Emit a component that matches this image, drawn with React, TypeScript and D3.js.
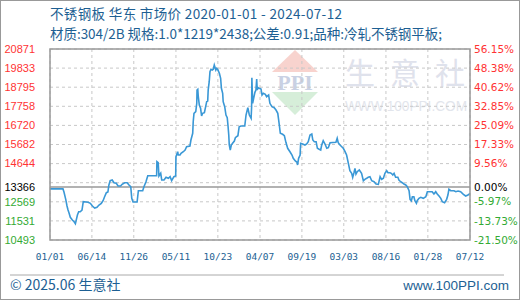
import React from "react";
import * as d3 from "d3";

const dates = [
  "2020-01-01","2020-02-21","2020-02-25","2020-03-03","2020-03-08","2020-03-12","2020-03-16","2020-03-21","2020-03-29","2020-04-05",
  "2020-04-10","2020-04-14","2020-04-18","2020-04-23","2020-04-29","2020-05-06","2020-05-11","2020-05-30","2020-06-08","2020-06-16",
  "2020-06-25","2020-07-04","2020-07-12","2020-07-21","2020-07-28","2020-08-03","2020-08-10","2020-08-16","2020-08-20","2020-08-25",
  "2020-09-02","2020-09-09","2020-09-18","2020-09-25","2020-10-05","2020-10-11","2020-10-21","2020-10-31","2020-11-07","2020-11-14",
  "2020-11-18","2020-11-23","2020-12-09","2020-12-14","2020-12-31","2021-01-05","2021-01-13","2021-01-20","2021-02-24","2021-02-25",
  "2021-03-02","2021-03-05","2021-03-12","2021-03-16","2021-03-25","2021-04-02","2021-04-11","2021-04-18","2021-04-24","2021-05-03",
  "2021-05-10","2021-05-11","2021-05-18","2021-05-20","2021-05-27","2021-05-31","2021-06-09","2021-06-16","2021-06-22","2021-07-05",
  "2021-07-09","2021-07-16","2021-07-18","2021-07-21","2021-07-28","2021-08-01","2021-08-02","2021-08-05","2021-08-07","2021-08-11",
  "2021-08-16","2021-08-20","2021-08-24","2021-08-31","2021-09-05","2021-09-09","2021-09-13","2021-09-15","2021-09-19","2021-09-22",
  "2021-09-26","2021-10-01","2021-10-05","2021-10-09","2021-10-15","2021-10-18","2021-10-22","2021-10-29","2021-11-03","2021-11-06",
  "2021-11-11","2021-11-13","2021-11-19","2021-11-24","2021-11-29","2021-12-02","2021-12-05","2021-12-07","2021-12-11","2021-12-15",
  "2021-12-20","2021-12-27","2021-12-31","2022-01-05","2022-01-10","2022-01-15","2022-01-22","2022-02-06","2022-02-11","2022-02-18",
  "2022-02-24","2022-03-03","2022-03-05","2022-03-06","2022-03-09","2022-03-13","2022-03-18","2022-03-22","2022-03-25","2022-03-27",
  "2022-03-31","2022-04-04","2022-04-11","2022-04-15","2022-04-20","2022-04-28","2022-05-03","2022-05-11","2022-05-16","2022-05-24",
  "2022-06-02","2022-06-09","2022-06-16","2022-06-20","2022-06-22","2022-06-26","2022-07-05","2022-07-12","2022-07-18","2022-07-25",
  "2022-08-03","2022-08-11","2022-08-16","2022-08-24","2022-08-31","2022-09-02","2022-09-06","2022-09-12","2022-09-14","2022-09-22",
  "2022-10-01","2022-10-08","2022-10-14","2022-10-21","2022-10-28","2022-11-01","2022-11-07","2022-11-14","2022-11-19","2022-11-26",
  "2022-12-02","2022-12-06","2022-12-12","2022-12-19","2022-12-26","2023-01-01","2023-01-08","2023-01-31","2023-02-05","2023-02-09",
  "2023-02-16","2023-02-23","2023-03-01","2023-03-08","2023-03-14","2023-03-21","2023-03-27","2023-04-03","2023-04-07","2023-04-12",
  "2023-04-16","2023-04-20","2023-04-25","2023-05-03","2023-05-12","2023-05-19","2023-05-25","2023-06-01","2023-06-07","2023-06-14",
  "2023-06-21","2023-06-30","2023-07-08","2023-07-17","2023-07-24","2023-07-30","2023-08-06","2023-08-12","2023-08-19","2023-08-24",
  "2023-09-01","2023-09-06","2023-09-12","2023-09-17","2023-09-23","2023-10-02","2023-10-06","2023-10-13","2023-10-19","2023-10-26",
  "2023-11-02","2023-11-08","2023-11-15","2023-11-19","2023-11-24","2023-11-28","2023-12-04","2023-12-08","2023-12-14","2023-12-17",
  "2023-12-24","2023-12-31","2024-01-10","2024-01-20","2024-01-26","2024-02-14","2024-02-21","2024-02-28","2024-03-05","2024-03-12",
  "2024-03-19","2024-03-25","2024-04-03","2024-04-11","2024-04-16","2024-04-20","2024-04-27","2024-05-10","2024-05-17","2024-05-26",
  "2024-06-05","2024-06-16","2024-06-25","2024-07-04","2024-07-12"
];

const prices = [
  13270,13270,13100,12704,12340,12122,11959,11725,11579,11486,
  11378,11617,11851,12030,12030,12122,12573,12540,12486,12340,
  12231,12269,12394,12486,12627,12845,13062,13100,13481,13714,
  13752,13606,13573,13426,13426,13519,13606,13606,13481,13389,
  12758,12557,12557,13171,13171,13389,13660,13986,13986,14747,
  14693,13970,14117,13752,13752,13899,13845,13932,13714,13932,
  13970,15018,15290,15111,15111,15203,15290,15383,15562,15600,
  15926,16290,16920,17377,17464,17920,18643,18681,18279,17828,
  17649,17230,17377,17410,17736,18007,18045,18643,19094,19637,
  19768,19730,19768,20002,19730,19822,19768,19551,19279,18735,
  18464,18007,17736,17284,17138,16703,16198,15654,15383,15654,
  15747,15872,16051,16105,16160,16649,16687,16687,17284,17681,
  17284,17105,17736,19311,17920,18192,18518,18643,19241,18643,
  18768,18735,18697,18371,18464,18410,18279,18371,17920,17736,
  17681,17556,17377,16959,16741,16290,16236,16160,15801,15475,
  15290,15111,14932,14785,14714,14568,14932,15111,15747,15709,
  15654,15709,15834,16198,16252,15926,15834,15834,15475,15421,
  15383,15654,15888,15709,15475,15508,15779,15801,16018,15779,
  15654,15562,15475,15290,15111,14660,14258,14117,13899,14149,
  14388,14078,14204,14296,14117,13714,13790,13845,13899,13932,
  13714,13660,13535,13519,13932,13790,13845,14117,14258,14149,
  14149,14117,14024,14117,13899,13899,13752,13660,13606,13535,
  13481,13389,13171,12704,12627,12845,12845,12627,12486,12627,
  12758,12813,12758,12845,13117,13117,12992,13117,12992,12883,
  12758,12573,12519,12704,12937,13247,13171,13171,13117,13155,
  13117,12975,12883,12937,13030
];

const yTickValues = [20871, 19833, 18795, 17758, 16720, 15682, 14644, 13366, 12569, 11531, 10493];
const pctLabels = ["56.15%", "48.38%", "40.62%", "32.85%", "25.09%", "17.33%", "9.56%", "0.00%", "-5.97%", "-13.73%", "-21.50%"];
const baseValue = 13366;
const xTickDates = ["2020-01-01","2020-06-14","2020-11-26","2021-05-11","2021-10-23","2022-04-07","2022-09-19","2023-03-03","2023-08-16","2024-01-28","2024-07-12"];
const xTickLabels = ["01/01","06/14","11/26","05/11","10/23","04/07","09/19","03/03","08/16","01/28","07/12"];

const titleLine1 = "不锈钢板 华东 市场价 2020-01-01 - 2024-07-12";
const titleLine2 = "材质:304/2B 规格:1.0*1219*2438;公差:0.91;品种:冷轧不锈钢平板;";
const footerLeft = "© 2025.06 生意社";
const footerRight = "www.100PPI.com";
const watermarkChars = ["生", "意", "社"];

const W = 520, H = 300;
const L = 50, R = 470, T = 49, B = 240;

const parse = d3.timeParse("%Y-%m-%d");

export default function App() {
  const data = dates.map((d, i) => ({ date: parse(d) as Date, value: prices[i] }));
  const x = d3.scaleTime().domain([parse(dates[0]) as Date, parse(dates[dates.length - 1]) as Date]).range([L, R]);
  const y = d3.scaleLinear().domain([yTickValues[yTickValues.length - 1], yTickValues[0]]).range([B, T]);
  const line = d3.line<{ date: Date; value: number }>().x(d => x(d.date)).y(d => y(d.value));
  const [lo, hi] = y.domain();
  const gridVals = d3.range(11).map(i => lo + ((hi - lo) * i) / 10);
  const labelColor = (v: number) => (v > baseValue ? "#ff3333" : v < baseValue ? "#33aa33" : "#000");
  const blue = "#1d5f93";
  const cjk = "'Noto Sans CJK SC', sans-serif";

  return (
    <svg width={W} height={H} style={{ position: "absolute", left: 0, top: 0 }} xmlns="http://www.w3.org/2000/svg">
      <rect x={0.5} y={0.5} width={W - 1} height={H - 1} fill="#fff" stroke="#999" />
      <text x={L} y={19} fontFamily={cjk} fontSize={13.5} fill={blue} textLength={292} lengthAdjust="spacing">{titleLine1}</text>
      <text x={L} y={39} fontFamily={cjk} fontSize={13.5} fill={blue} textLength={392} lengthAdjust="spacing">{titleLine2}</text>

      {/* watermark */}
      <g>
        <polygon points="295,50 272,72 318,72" fill="#f8d3ce" />
        <text x={295} y={90} textAnchor="middle" fontFamily="'Liberation Serif', serif" fontWeight="bold" fontSize={22} fill="#c9d1e3">PPI</text>
        <polygon points="272,92 318,92 295,115" fill="#d6eed9" />
        {watermarkChars.map((c, i) => (
          <text key={"wm" + i} x={345 + i * 45} y={84} fontFamily={cjk} fontSize={30} fill="#dfe2ec">{c}</text>
        ))}
        <text x={345} y={111} fontFamily="'Liberation Sans', sans-serif" fontSize={14} fill="#e2e5ec" textLength={122} lengthAdjust="spacingAndGlyphs">WWW.100PPI.COM</text>
      </g>

      {/* grid */}
      {gridVals.map((v, i) => (
        <line key={"h" + i} x1={L} x2={R} y1={y(v)} y2={y(v)} stroke="#c8c8c8" strokeDasharray="3,3" />
      ))}
      {xTickDates.map((d, i) => (
        <line key={"v" + i} x1={x(parse(d) as Date)} x2={x(parse(d) as Date)} y1={T} y2={B} stroke="#c8c8c8" strokeDasharray="3,3" />
      ))}
      <line x1={L} x2={R} y1={y(baseValue)} y2={y(baseValue)} stroke="#999" strokeWidth={1.5} />

      <path d={line(data) || ""} fill="none" stroke="#3a98d6" strokeWidth={1.6} />

      <rect x={L} y={T} width={R - L} height={B - T} fill="none" stroke="#999" strokeWidth={1.5} />

      {yTickValues.map((v, i) => (
        <text key={"yl" + i} x={35} y={y(v)} dy="0.35em" textAnchor="end" fontFamily="'Liberation Sans', sans-serif" fontSize={11} fill={labelColor(v)}>{v}</text>
      ))}
      {yTickValues.map((v, i) => (
        <text key={"yr" + i} x={474} y={y(v)} dy="0.35em" fontFamily="'DejaVu Sans', sans-serif" fontSize={10.5} fill={labelColor(v)}>{pctLabels[i]}</text>
      ))}
      {xTickDates.map((d, i) => (
        <text key={"xl" + i} x={x(parse(d) as Date)} y={260} textAnchor="middle" fontFamily="'DejaVu Sans Mono', monospace" fontSize={9.5} fill={blue}>{xTickLabels[i]}</text>
      ))}

      <line x1={10} x2={504} y1={275} y2={275} stroke="#aaa" />
      <text x={10} y={290} fontFamily={cjk} fontSize={14} fill={blue}>{footerLeft}</text>
      <text x={509} y={290} textAnchor="end" fontFamily="'Liberation Sans', sans-serif" fontSize={13.5} fill={blue}>{footerRight}</text>
    </svg>
  );
}
